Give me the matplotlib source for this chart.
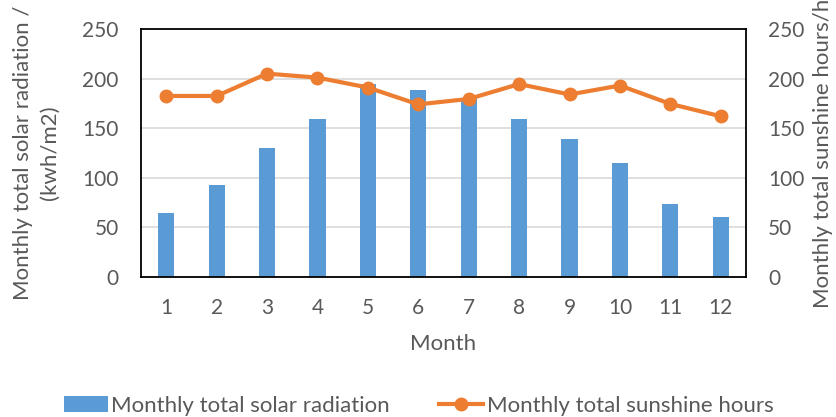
import numpy as np
import matplotlib
matplotlib.use("Agg")
import matplotlib.pyplot as plt

months = [str(m) for m in range(1, 13)]
radiation = [65, 93, 130, 159, 195, 189, 180, 159, 139, 115, 74, 60]
sunshine = [182.5, 182.5, 205, 201, 191, 174, 179.5, 194.5, 184, 193, 174.5, 162]

plt.rcParams["font.family"] = ["Lato", "DejaVu Sans"]
grey = "#595959"
fs = 15   # tick labels
lfs = 16  # axis titles and legend

fig = plt.figure(figsize=(8.37, 4.17), dpi=100)
ax = fig.add_axes([141/837, 1 - 277/417, 605/837, 248/417])
x = np.arange(len(months))

ax.bar(x, radiation, 0.32, color="#5B9BD5", label="Monthly total solar radiation", zorder=2)
ax.set_xlim(-0.5, 11.5)
ax.set_ylim(0, 250)
ax.set_yticks(range(0, 251, 50))
ax.set_xticks(x, months)
ax.grid(True, axis="y", color="#D9D9D9", lw=1.2, zorder=0)
ax.set_axisbelow(True)
for s in ax.spines.values():
    s.set_color("black"); s.set_linewidth(1.3)
ax.tick_params(axis="y", length=0, labelsize=fs, colors=grey, pad=16)
ax.tick_params(axis="x", length=0, labelsize=fs, colors=grey, pad=15)
ax.set_xlabel("Month", fontsize=lfs, color=grey, labelpad=12)
ax.set_ylabel("Monthly total solar radiation /\n(kwh/m2)", fontsize=lfs, color=grey,
              labelpad=16, linespacing=1.45)

ax2 = ax.twinx()
ax2.plot(x, sunshine, color="#ED7D31", lw=3, marker="o", ms=9,
         label="Monthly total sunshine hours", zorder=3)
ax2.set_ylim(0, 250)
ax2.set_yticks(range(0, 251, 50))
ax2.tick_params(length=0, labelsize=fs, colors=grey, pad=16)
for s in ax2.spines.values():
    s.set_visible(False)
ax2.set_ylabel("Monthly total sunshine hours/h", fontsize=lfs, color=grey, labelpad=6)

h1, l1 = ax.get_legend_handles_labels()
h2, l2 = ax2.get_legend_handles_labels()
fig.legend(h1 + h2, l1 + l2, loc="center", bbox_to_anchor=(0.5, 0.027), ncol=2,
           frameon=False, fontsize=lfs, labelcolor=grey, columnspacing=2.2,
           handlelength=2.0, handletextpad=0.15)

fig.savefig("out.png", dpi=100)
